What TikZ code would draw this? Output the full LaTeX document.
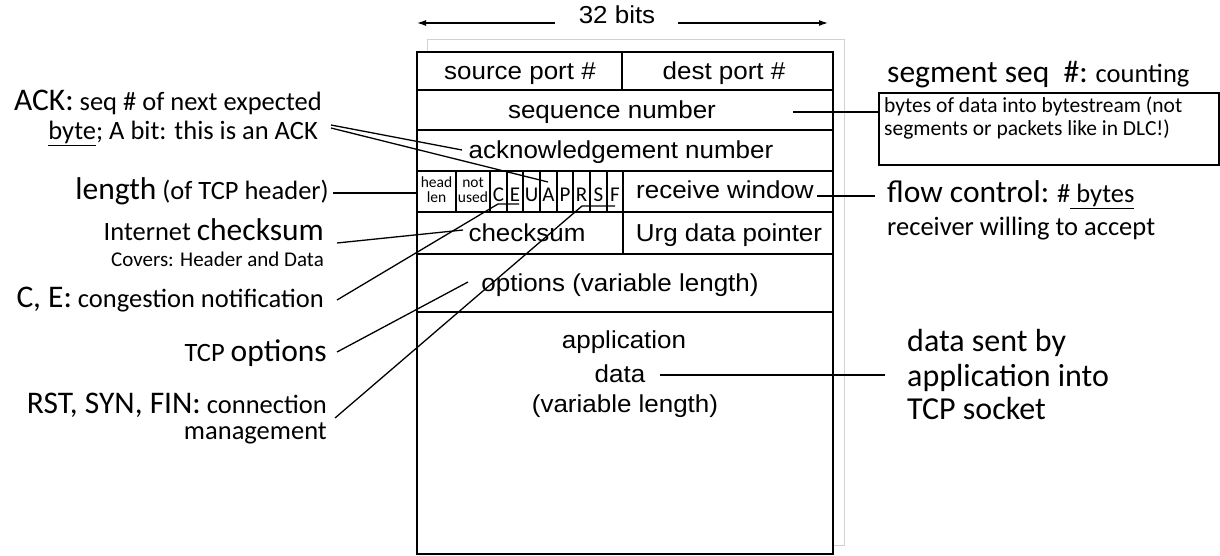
\documentclass[tikz,border=0pt]{standalone}
\usepackage{fontspec}
\setmainfont{Liberation Sans}[FakeStretch=1.06]
\newfontfamily\calf{Carlito}
\usetikzlibrary{arrows.meta}
\newcommand\fsz[1]{\fontsize{#1}{#1}\selectfont}
\begin{document}
\begin{tikzpicture}[x=1pt,y=-1pt,
  fld/.style={font=\fsz{24.5}, inner sep=0pt, anchor=base},
  lbl/.style={font=\calf\fsz{26.5}, inner sep=0pt, anchor=base east},
  rlbl/.style={font=\calf\fsz{26.5}, inner sep=0pt, anchor=base west},
  tinytxt/.style={font=\calf\fsz{15.5}, inner sep=0pt, anchor=base},
  flagtxt/.style={font=\calf\fsz{21}, inner sep=0pt, anchor=base},
  rowline/.style={line width=1.3pt},
  heavyline/.style={line width=2.2pt},
  lead/.style={line width=1.3pt},
  heavylead/.style={line width=2.4pt},
]
\useasboundingbox (0,0) rectangle (1220,556);

% shadow frame
\draw[black!18, line width=0.8pt] (427,39) rectangle (844,545);
\fill[white] (417,52) rectangle (833,554);

% header box
\draw[line width=1.5pt] (417,52) rectangle (833,554);
\draw[rowline] (417,90) -- (833,90);
\draw[rowline] (417,130) -- (833,130);
\draw[rowline] (417,171) -- (833,171);
\draw[heavyline] (417,212) -- (833,212);
\draw[heavyline] (417,254) -- (833,254);
\draw[heavyline] (417,312) -- (833,312);
\draw[rowline] (622,52) -- (622,90);
\draw[rowline] (623,171) -- (623,254);
\foreach \x in {456,490,507,523,540,557,573,590,607}
  \draw[line width=1.1pt] (\x,171) -- (\x,212);

% 32 bits
\node[fld] (bits) at (617,24) {32 bits};
\coordinate (bitsL) at (555,23);
\coordinate (bitsLend) at (417,23);
\coordinate (bitsR) at (678,23);
\coordinate (bitsRend) at (828,23);
\draw[lead,-{Latex[length=9pt,width=6pt]}] (bitsL) -- (bitsLend);
\draw[lead,-{Latex[length=9pt,width=6pt]}] (bitsR) -- (bitsRend);

% field texts
\node[fld] (src) at (520,80) {source port \#};
\node[fld] (dst) at (724,80) {dest port \#};
\node[fld] (seq) at (612,119) {sequence number};
\node[fld] (ackn) at (621,159) {acknowledgement number};
\node[tinytxt] (hl1) at (436.5,188) {head};
\node[tinytxt] (hl2) at (436.5,203) {len};
\node[tinytxt] (nu1) at (473,188) {not};
\node[tinytxt] (nu2) at (473,203) {used};
\node[flagtxt] (fC) at (498.5,201) {C};
\node[flagtxt] (fE) at (515,201) {E};
\node[flagtxt] (fU) at (531.5,201) {U};
\node[flagtxt] (fA) at (548.5,201) {A};
\node[flagtxt] (fP) at (565,201) {P};
\node[flagtxt] (fR) at (581.5,201) {R};
\node[flagtxt] (fS) at (598.5,201) {S};
\node[flagtxt] (fF) at (615,201) {F};
\node[fld] (rwin) at (725,199) {receive window};
\node[fld] (cks) at (527,241) {checksum};
\node[fld] (urg) at (729,241) {Urg data pointer};
\node[fld] (opts) at (620,291) {options (variable length)};
\node[fld] (app1) at (624,348) {application};
\node[fld] (app2) at (620,382) {data};
\node[fld] (app3) at (625,412) {(variable length)};

% left labels
\node[lbl] (ackl1) at (322,111) {{\fsz{31.5}ACK:} seq \# of next expected};
\node[lbl] (ackl2) at (318,140) {\underline{byte}; A bit: this is an ACK};
\node[lbl] (lenl) at (329,200) {{\fsz{31.5}length} (of TCP header)};
\node[lbl] (cksl) at (324,240) {Internet {\fsz{31.5}checksum}};
\node[lbl, font=\calf\fsz{21}] (covl) at (324,266) {Covers: Header and Data};
\node[lbl] (cel) at (324,307) {{\fsz{31.5}C, E:} congestion notification};
\node[lbl] (optl) at (327,361) {TCP {\fsz{31.5}options}};
\node[lbl] (rstl1) at (327,413) {{\fsz{31.5}RST, SYN, FIN:} connection};
\node[lbl] (rstl2) at (327,439) {management};

% right labels
\node[rlbl] (segl) at (887,83) {{\fsz{31.5}segment seq\ \ \#:} counting};
\node[draw, line width=2.2pt, minimum width=340pt, minimum height=72pt,
      inner sep=0pt, anchor=north west] (segbox) at (878,92) {};
\node[rlbl, font=\calf\fsz{21.5}] (segt1) at (884,113) {bytes of data into bytestream (not};
\node[rlbl, font=\calf\fsz{21.5}] (segt2) at (884,136) {segments or packets like in DLC!)};
\node[rlbl] (flowl1) at (887,203) {{\fsz{31.5}flow control:} \#\underline{ bytes}};
\node[rlbl] (flowl2) at (887,235) {receiver willing to accept};
\node[rlbl, font=\calf\fsz{32}] (dsl1) at (907,351) {data sent by};
\node[rlbl, font=\calf\fsz{32}] (dsl2) at (907,386) {application into};
\node[rlbl, font=\calf\fsz{32}] (dsl3) at (907,419) {TCP socket};

% connector end points
\coordinate (ackS1) at (331,125);
\coordinate (ackE1) at (462,150);
\coordinate (ackS2) at (331,128);
\coordinate (ackE2) at (548,182);
\coordinate (lenS) at (333,193);
\coordinate (lenE) at (417,193);
\coordinate (ckS) at (337,243);
\coordinate (ckE) at (463,230);
\coordinate (ceS) at (337,300);
\coordinate (ceM) at (498,204);
\coordinate (ceE) at (519,204);
\coordinate (opS) at (337,352);
\coordinate (opE) at (468,282);
\coordinate (rsS) at (335,418);
\coordinate (rsM) at (582,206);
\coordinate (rsE) at (615,206);
\coordinate (sqS) at (793,112);
\coordinate (sqE) at (878,112);
\coordinate (rwS) at (817,196);
\coordinate (rwE) at (875,196);
\coordinate (dtS) at (660,375);
\coordinate (dtE) at (885,375);

% connectors
\draw[lead] (ackS1) -- (ackE1);
\draw[lead] (ackS2) -- (ackE2);
\draw[heavylead] (lenS) -- (lenE);
\draw[lead] (ckS) -- (ckE);
\draw[lead] (ceS) -- (ceM) -- (ceE);
\draw[lead] (opS) -- (opE);
\draw[lead] (rsS) -- (rsM) -- (rsE);
\draw[line width=2pt] (sqS) -- (sqE);
\draw[heavylead] (rwS) -- (rwE);
\draw[heavylead] (dtS) -- (dtE);
\end{tikzpicture}
\end{document}
